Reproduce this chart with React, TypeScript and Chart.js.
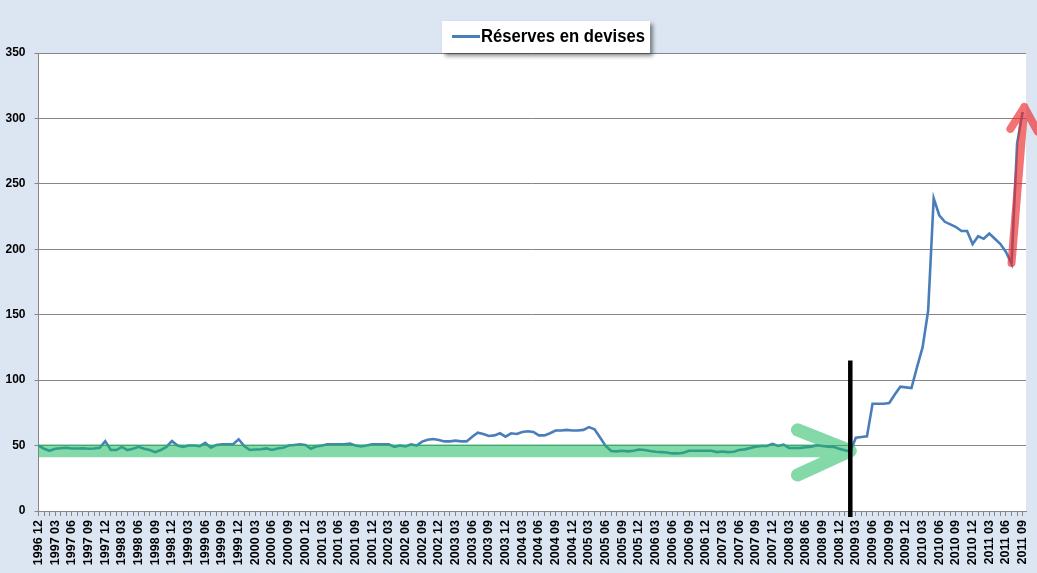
import { useEffect, useRef } from 'react';
import { Chart, registerables } from 'chart.js';

Chart.register(...registerables);

// Monthly categories from 1996-12 to 2011-09 (labels shown every quarter)
const startYear = 1996;
const startMonth = 12;
const monthCount = 178;
const months: string[] = [];
{
  let y = startYear;
  let m = startMonth;
  for (let k = 0; k < monthCount; k++) {
    months.push(`${y} ${String(m).padStart(2, '0')}`);
    m++;
    if (m > 12) { m = 1; y++; }
  }
}

// Réserves en devises (monthly values)
const reserves: number[] = [
  50, 47.6, 46, 47.6, 48, 48.3, 47.8, 47.8, 48, 47.6, 47.8, 48.3,
  53.4, 46.6, 46.6, 49, 46.6, 47.5, 49, 47.5, 46.6, 45, 46.6, 49,
  53.4, 50, 49, 50, 50, 49.5, 52, 48.4, 50.5, 51, 51, 51,
  54.8, 49.7, 46.6, 47, 47.2, 47.8, 46.6, 47.8, 48.4, 50, 50.5, 51,
  50.5, 47.6, 49.4, 50, 51, 51, 51, 51, 51.5, 50, 49.4, 50,
  51, 51, 51, 51, 49, 50, 49.4, 51, 50, 53, 54.5, 55,
  54.3, 53.2, 53.2, 53.8, 53.2, 53.2, 56.8, 59.9, 58.9, 57.3, 57.8, 59.4,
  56.8, 59.4, 58.9, 60.4, 60.9, 60.4, 57.8, 57.8, 59.4, 61.5, 61.5, 62,
  61.5, 61.5, 62, 64.1, 62.5, 56.1, 49.7, 45.8, 45.6, 46, 45.6, 46,
  47, 46.6, 45.8, 45.3, 45, 44.7, 44, 44, 44.5, 46, 46, 46,
  46, 46, 45, 45.5, 45, 45.3, 46.6, 47.1, 48.2, 49.2, 49.7, 49.7,
  51.3, 49.7, 50.7, 48.2, 48.2, 48.2, 48.7, 49.2, 50.2, 49.7, 49.2, 49,
  47.6, 46.5, 45.5, 56, 56.5, 57, 82, 82, 82, 82.5, 89, 95,
  94.5, 94, 110, 125, 153, 239, 226, 221, 219, 217, 214, 214,
  204, 210, 208, 212, 208, 204, 198, 189, 281, 305,
];

const yTicks = [0, 50, 100, 150, 200, 250, 300, 350];
const seriesLabel = 'Réserves en devises';

// Annotations in data units: [month index, value]
const greenShaft: [number, number][] = [[0, 46], [146, 46]];
const greenHead: [number, number][] = [[136.5, 62], [146, 46], [136.5, 27.5]];
const blackMarker: [number, number][] = [[146, -4.5], [146, 115]];
const redShaft: [number, number][] = [[175, 189.5], [177.3, 308.7]];
const redHead: [number, number][] = [[174.8, 292], [177.3, 308.7], [179.7, 290]];

const FONT = '"Liberation Sans", Arial, sans-serif';
const BG = '#dce6f2';
const BLUE = '#4a7ebb';
const GRID = '#868686';

const decorPlugin = {
  id: 'decor',
  beforeDraw(chart: any) {
    const { ctx, chartArea, width, height } = chart;
    ctx.save();
    ctx.fillStyle = BG;
    ctx.fillRect(0, 0, width, height);
    ctx.fillStyle = '#ffffff';
    ctx.fillRect(chartArea.left, chartArea.top, chartArea.right - chartArea.left, chartArea.bottom - chartArea.top);
    ctx.restore();
  },
  afterDatasetsDraw(chart: any) {
    const { ctx, chartArea, width, height } = chart;
    const xs = chart.scales.x;
    const ys = chart.scales.y;
    const px = (p: [number, number]) => [xs.getPixelForValue(p[0]), ys.getPixelForValue(p[1])];

    // green arrow
    ctx.save();
    ctx.beginPath();
    ctx.rect(chartArea.left, 0, width - chartArea.left, height);
    ctx.clip();
    ctx.beginPath();
    const g0 = px(greenShaft[0]);
    const g1 = px(greenShaft[1]);
    ctx.moveTo(g0[0] - 10, g0[1]);
    ctx.lineTo(g1[0], g1[1]);
    const h0 = px(greenHead[0]);
    const h1 = px(greenHead[1]);
    const h2 = px(greenHead[2]);
    ctx.moveTo(h0[0], h0[1]);
    ctx.lineTo(h1[0], h1[1]);
    ctx.lineTo(h2[0], h2[1]);
    ctx.strokeStyle = 'rgba(30,185,95,0.55)';
    ctx.lineWidth = 13;
    ctx.lineCap = 'round';
    ctx.lineJoin = 'round';
    ctx.stroke();
    ctx.restore();

    // black vertical marker
    ctx.save();
    const b0 = px(blackMarker[0]);
    const b1 = px(blackMarker[1]);
    ctx.beginPath();
    ctx.moveTo(b0[0], b0[1]);
    ctx.lineTo(b1[0], b1[1]);
    ctx.strokeStyle = '#000000';
    ctx.lineWidth = 4.5;
    ctx.stroke();
    ctx.restore();

    // red arrow
    ctx.save();
    ctx.beginPath();
    const r0 = px(redShaft[0]);
    const r1 = px(redShaft[1]);
    ctx.moveTo(r0[0], r0[1]);
    ctx.lineTo(r1[0], r1[1]);
    const q0 = px(redHead[0]);
    const q1 = px(redHead[1]);
    const q2 = px(redHead[2]);
    ctx.moveTo(q0[0], q0[1]);
    ctx.lineTo(q1[0], q1[1]);
    ctx.lineTo(q2[0], q2[1]);
    ctx.strokeStyle = 'rgba(235,40,40,0.65)';
    ctx.lineWidth = 8;
    ctx.lineCap = 'round';
    ctx.lineJoin = 'round';
    ctx.stroke();
    ctx.restore();
  },
  afterDraw(chart: any) {
    const { ctx } = chart;
    // legend box
    ctx.save();
    ctx.shadowColor = 'rgba(0,0,0,0.45)';
    ctx.shadowOffsetX = 3;
    ctx.shadowOffsetY = 3;
    ctx.shadowBlur = 4;
    ctx.fillStyle = '#ffffff';
    ctx.fillRect(442, 21, 208, 32);
    ctx.restore();
    ctx.save();
    ctx.beginPath();
    ctx.moveTo(452, 36.5);
    ctx.lineTo(480, 36.5);
    ctx.strokeStyle = BLUE;
    ctx.lineWidth = 3;
    ctx.stroke();
    ctx.fillStyle = '#000000';
    ctx.font = `bold 18px ${FONT}`;
    ctx.textBaseline = 'middle';
    ctx.textAlign = 'left';
    ctx.fillText(seriesLabel, 481, 37, 164);
    ctx.restore();
  },
};

export default function App() {
  const ref = useRef<HTMLCanvasElement>(null);
  useEffect(() => {
    document.body.style.margin = '0';
    const chart = new Chart(ref.current as HTMLCanvasElement, {
      type: 'line',
      data: {
        datasets: [
          {
            label: seriesLabel,
            data: reserves.map((v, i) => ({ x: i, y: v })),
            borderColor: BLUE,
            backgroundColor: BLUE,
            borderWidth: 2.6,
            pointRadius: 0,
            tension: 0,
            fill: false,
          },
        ],
      },
      options: {
        animation: false,
        responsive: true,
        maintainAspectRatio: false,
        layout: { padding: { top: 53, right: 11, left: 0, bottom: 0 } },
        plugins: {
          legend: { display: false },
          tooltip: { enabled: false },
        },
        scales: {
          x: {
            type: 'linear',
            min: 0,
            max: 177.6,
            afterBuildTicks: (s: any) => {
              s.ticks = months.map((_, i) => ({ value: i }));
            },
            afterFit: (s: any) => {
              s.height = 62;
              s.paddingLeft = 0;
              s.paddingRight = 0;
            },
            grid: { drawOnChartArea: false, drawTicks: true, tickLength: 5, color: GRID },
            border: { display: true, color: GRID, width: 1 },
            ticks: {
              autoSkip: false,
              maxRotation: 90,
              minRotation: 90,
              padding: 4,
              color: '#000000',
              font: { family: FONT, size: 12.5, weight: 'bold' },
              callback: (v: any) => (Number(v) % 3 === 0 ? months[Number(v)] : ''),
            },
          },
          y: {
            type: 'linear',
            min: 0,
            max: 350,
            afterBuildTicks: (s: any) => {
              s.ticks = yTicks.map((v) => ({ value: v }));
            },
            afterFit: (s: any) => {
              s.width = 38.5;
              s.paddingTop = 0;
              s.paddingBottom = 0;
            },
            grid: { color: GRID, tickLength: 4, lineWidth: 1 },
            border: { display: true, color: GRID, width: 1 },
            ticks: {
              padding: 9,
              color: '#000000',
              font: { family: FONT, size: 12, weight: 'bold' },
            },
          },
        },
      },
      plugins: [decorPlugin],
    } as any);
    return () => chart.destroy();
  }, []);
  return (
    <div style={{ width: 1037, height: 573, position: 'relative' }}>
      <canvas ref={ref} />
    </div>
  );
}
